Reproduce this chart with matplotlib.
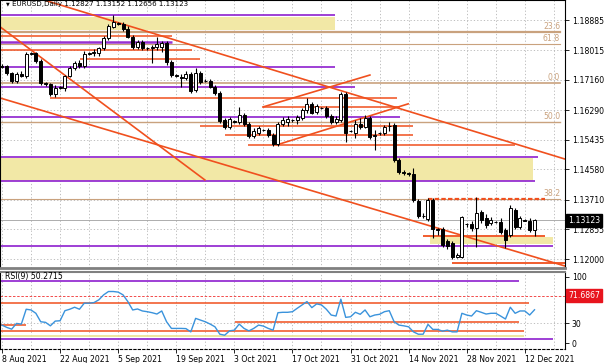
import numpy as np
import matplotlib.pyplot as plt
from matplotlib.patches import Rectangle

# daily EURUSD candles (Sunday bars included)
opens = [1.1756, 1.1756, 1.1736, 1.1713, 1.1733, 1.1727, 1.1791, 1.1793, 1.1770, 1.1707,
         1.1704, 1.1675, 1.1693, 1.1693, 1.1727, 1.1750, 1.1765, 1.1756, 1.1791, 1.1793,
         1.1793, 1.1808, 1.1837, 1.1868, 1.1880, 1.1877, 1.1863, 1.1840, 1.1811, 1.1825,
         1.1808, 1.1808, 1.1811, 1.1811, 1.1822, 1.1768, 1.1730, 1.1724, 1.1721, 1.1733,
         1.1687, 1.1736, 1.1713, 1.1713, 1.1696, 1.1678, 1.1601, 1.1580, 1.1598, 1.1595,
         1.1615, 1.1589, 1.1554, 1.1563, 1.1572, 1.1572, 1.1557, 1.1531, 1.1589, 1.1595,
         1.1601, 1.1601, 1.1606, 1.1629, 1.1647, 1.1624, 1.1635, 1.1635, 1.1612, 1.1595,
         1.1601, 1.1675, 1.1569, 1.1563, 1.1589, 1.1580, 1.1606, 1.1554, 1.1563, 1.1563,
         1.1583, 1.1586, 1.1485, 1.1451, 1.1448, 1.1445, 1.1367, 1.1324, 1.1315, 1.1370,
         1.1287, 1.1287, 1.1252, 1.1246, 1.1206, 1.1206, 1.1301, 1.1301, 1.1289, 1.1336,
         1.1318, 1.1304, 1.1307, 1.1307, 1.1284, 1.1269, 1.1341, 1.1292, 1.1312, 1.1310,
         1.12827]
highs = [1.1762, 1.1759, 1.1739, 1.1739, 1.1742, 1.1796, 1.1796, 1.1796, 1.1776, 1.1710,
         1.1707, 1.1701, 1.1698, 1.1730, 1.1756, 1.1770, 1.1773, 1.1799, 1.1796, 1.1805,
         1.1811, 1.1842, 1.1877, 1.1903, 1.1883, 1.1883, 1.1871, 1.1845, 1.1831, 1.1831,
         1.1811, 1.1817, 1.1840, 1.1828, 1.1828, 1.1773, 1.1733, 1.1733, 1.1742, 1.1739,
         1.1750, 1.1742, 1.1719, 1.1719, 1.1701, 1.1684, 1.1606, 1.1609, 1.1601, 1.1638,
         1.1621, 1.1595, 1.1578, 1.1583, 1.1575, 1.1578, 1.1563, 1.1595, 1.1609, 1.1612,
         1.1603, 1.1615, 1.1635, 1.1664, 1.1652, 1.1647, 1.1638, 1.1641, 1.1618, 1.1612,
         1.1681, 1.1681, 1.1572, 1.1601, 1.1606, 1.1615, 1.1612, 1.1572, 1.1566, 1.1586,
         1.1595, 1.1592, 1.1491, 1.1457, 1.1451, 1.1462, 1.1373, 1.1333, 1.1376, 1.1376,
         1.1289, 1.1292, 1.1258, 1.1252, 1.1217, 1.1324, 1.1304, 1.1310, 1.1379, 1.1341,
         1.1330, 1.1321, 1.1310, 1.1318, 1.1289, 1.1356, 1.1347, 1.1324, 1.1315, 1.1318,
         1.13152]
lows = [1.1750, 1.1730, 1.1707, 1.1707, 1.1724, 1.1721, 1.1788, 1.1765, 1.1701, 1.1698,
        1.1670, 1.1667, 1.1690, 1.1684, 1.1724, 1.1745, 1.1750, 1.1750, 1.1788, 1.1785,
        1.1785, 1.1802, 1.1831, 1.1865, 1.1874, 1.1857, 1.1837, 1.1805, 1.1805, 1.1802,
        1.1802, 1.1765, 1.1802, 1.1796, 1.1759, 1.1724, 1.1724, 1.1696, 1.1716, 1.1678,
        1.1681, 1.1704, 1.1710, 1.1693, 1.1673, 1.1592, 1.1575, 1.1575, 1.1592, 1.1589,
        1.1583, 1.1549, 1.1549, 1.1557, 1.1569, 1.1552, 1.1526, 1.1526, 1.1583, 1.1583,
        1.1595, 1.1589, 1.1601, 1.1621, 1.1618, 1.1618, 1.1632, 1.1606, 1.1589, 1.1589,
        1.1595, 1.1537, 1.1566, 1.1549, 1.1575, 1.1578, 1.1546, 1.1514, 1.1557, 1.1557,
        1.1569, 1.1480, 1.1445, 1.1442, 1.1439, 1.1364, 1.1318, 1.1318, 1.1310, 1.1261,
        1.1269, 1.1235, 1.1229, 1.1200, 1.1203, 1.1203, 1.1292, 1.1281, 1.1235, 1.1304,
        1.1289, 1.1298, 1.1304, 1.1272, 1.1232, 1.1263, 1.1287, 1.1287, 1.1310, 1.1278,
        1.12656]
closes = [1.1753, 1.1736, 1.1713, 1.1733, 1.1727, 1.1791, 1.1793, 1.1770, 1.1707, 1.1704,
          1.1675, 1.1693, 1.1696, 1.1727, 1.1750, 1.1765, 1.1756, 1.1791, 1.1793, 1.1796,
          1.1808, 1.1837, 1.1871, 1.1883, 1.1877, 1.1863, 1.1840, 1.1811, 1.1825, 1.1808,
          1.1809, 1.1811, 1.1819, 1.1822, 1.1768, 1.1730, 1.1727, 1.1721, 1.1733, 1.1684,
          1.1736, 1.1710, 1.1712, 1.1696, 1.1678, 1.1598, 1.1580, 1.1603, 1.1595, 1.1615,
          1.1589, 1.1554, 1.1569, 1.1578, 1.1571, 1.1557, 1.1531, 1.1589, 1.1601, 1.1603,
          1.1600, 1.1609, 1.1629, 1.1647, 1.1621, 1.1641, 1.1634, 1.1612, 1.1595, 1.1603,
          1.1675, 1.1563, 1.1568, 1.1589, 1.1580, 1.1606, 1.1552, 1.1557, 1.1562, 1.1580,
          1.1582, 1.1485, 1.1451, 1.1448, 1.1445, 1.1370, 1.1324, 1.1323, 1.1370, 1.1287,
          1.1284, 1.1240, 1.1238, 1.1206, 1.1212, 1.1321, 1.1300, 1.1289, 1.1333, 1.1312,
          1.1298, 1.1312, 1.1306, 1.1278, 1.1255, 1.1347, 1.1292, 1.1318, 1.1311, 1.1284,
          1.13123]
rsi9 = [27.3, 23.8, 21.2, 29.8, 28.8, 51.1, 50.0, 45.0, 32.3, 31.4,
        26.2, 33.3, 33.8, 48.9, 51.1, 54.1, 51.1, 60.2, 60.2, 61.1,
        65.2, 72.7, 77.7, 77.7, 76.8, 72.7, 62.6, 50.0, 51.5, 48.5,
        47.4, 45.9, 43.9, 48.5, 32.3, 22.3, 22.3, 22.3, 22.0, 17.1,
        37.4, 34.8, 32.3, 28.8, 24.7, 13.6, 12.1, 18.6, 19.7, 28.8,
        22.3, 18.6, 22.3, 27.3, 25.8, 22.3, 19.7, 45.9, 46.5, 46.5,
        47.4, 52.6, 57.6, 62.6, 53.5, 59.1, 57.6, 51.1, 42.4, 40.9,
        66.2, 38.9, 39.8, 46.5, 43.5, 50.0, 39.8, 42.4, 43.5, 47.4,
        48.9, 32.3, 27.3, 26.2, 24.7, 17.1, 13.6, 13.6, 28.3, 20.8,
        20.8, 18.2, 19.7, 17.1, 17.1, 45.0, 42.4, 40.9, 48.9, 46.5,
        43.9, 45.0, 45.0, 40.9, 36.4, 54.1, 45.0, 48.5, 48.5, 42.4,
        50.27]

date_labels = ['8 Aug 2021', '22 Aug 2021', '5 Sep 2021', '19 Sep 2021', '3 Oct 2021',
               '17 Oct 2021', '31 Oct 2021', '14 Nov 2021', '28 Nov 2021', '12 Dec 2021']
price_ticks = [1.18885, 1.18015, 1.17160, 1.16290, 1.15435, 1.14580, 1.13710, 1.12855, 1.12000]
last_price = 1.13123
rsi_last = 50.2715
rsi_marker = 71.6867

ORANGE = '#F0501E'
PURPLE = '#9630D2'
YELLOW = '#F2E8A6'
TAN = '#C9A27E'
FS = 5.6

X = np.arange(len(opens))
o = np.array(opens); c = np.array(closes); h = np.array(highs); l = np.array(lows)

fig = plt.figure(figsize=(6.05, 3.63), dpi=100)
ax = fig.add_axes([0.0, 1 - 268 / 363, 565 / 605, 268 / 363])
ax2 = fig.add_axes([0.0, 1 - 349 / 363, 565 / 605, 77 / 363])

XMIN, XMAX = -0.41, 116.3
ax.set_xlim(XMIN, XMAX)
ax.set_ylim(1.11743, 1.19461)
ax2.set_xlim(XMIN, XMAX)
ax2.set_ylim(-8.6, 107)

# grid
for a in (ax, ax2):
    for gx in np.arange(0, 117, 6):
        a.axvline(gx, color='#b4b4b4', lw=0.6, ls=(0, (1.5, 2.5)), zorder=0)
for p in price_ticks:
    ax.axhline(p, color='#b4b4b4', lw=0.6, ls=(0, (1.5, 2.5)), zorder=0)

# zones
def zone(a, x0, x1, y0, y1):
    a.add_patch(Rectangle((x0, y0), x1 - x0, y1 - y0, color=YELLOW, lw=0, zorder=0.5))

zone(ax, XMIN, 68.8, 1.1860, 1.1897)
zone(ax, XMIN, 109.7, 1.1425, 1.1491)
zone(ax, 88.4, 113.8, 1.1243, 1.1263)

# horizontal levels: (price, x0, x1, color, lw)
hl = [
    (1.1903, XMIN, 68.8, PURPLE, 1.3),
    (1.1842, XMIN, 35.1, ORANGE, 1.1),
    (1.1824, XMIN, 35.1, PURPLE, 1.8),
    (1.1802, XMIN, 39.3, ORANGE, 1.1),
    (1.1776, 16.1, 40.9, ORANGE, 1.1),
    (1.1752, XMIN, 68.8, PURPLE, 1.3),
    (1.1696, XMIN, 72.9, PURPLE, 1.3),
    (1.1664, 9.9, 81.6, ORANGE, 1.1),
    (1.1638, 53.9, 82.2, ORANGE, 1.1),
    (1.1609, XMIN, 82.2, PURPLE, 1.3),
    (1.1583, 40.9, 84.9, ORANGE, 1.1),
    (1.1557, 46.1, 84.9, ORANGE, 1.1),
    (1.1529, 50.8, 106.0, ORANGE, 1.1),
    (1.1494, XMIN, 110.7, PURPLE, 1.3),
    (1.1425, XMIN, 110.1, PURPLE, 1.3),
    (1.1266, 87.0, 112.2, ORANGE, 1.3),
    (1.1239, XMIN, 113.8, PURPLE, 1.3),
    (1.1189, 93.0, 116.3, ORANGE, 1.3),
]
for p, x0, x1, col, lw in hl:
    ax.plot([x0, x1], [p, p], color=col, lw=lw, zorder=1, solid_capstyle='butt')

# fibo levels
fib = [(1.1854, '23.6', 1.6), (1.1819, '61.8', 0.8), (1.1707, '0.0', 1.2),
       (1.1595, '50.0', 1.0), (1.1372, '38.2', 0.8)]
for p, lab, lw in fib:
    ax.plot([XMIN, 115.3], [p, p], color=TAN, lw=lw, zorder=1)
    ax.text(115.3, p + 0.0003, lab, color=TAN, fontsize=FS, ha='right', va='bottom')
ax.plot([88.0, 112.2], [1.1372, 1.1372], color=ORANGE, lw=1.6, ls=(0, (2, 1)), zorder=1.2)

# trend lines
tl = [((-0.41, 1.1869), (41.9, 1.1428)),
      ((-0.41, 1.1664), (116.3, 1.1180)),
      ((8.7, 1.1946), (116.3, 1.1488)),
      ((53.9, 1.1638), (76.0, 1.1730)),
      ((56.8, 1.1529), (83.9, 1.1647))]
for (x0, y0), (x1, y1) in tl:
    ax.plot([x0, x1], [y0, y1], color=ORANGE, lw=1.2, zorder=1.1)

# bid line
ax.axhline(last_price, color='#a0a0a0', lw=0.6, zorder=1)

# candles
up = c >= o
ax.vlines(X, l, h, color='black', lw=0.8, zorder=2)
body_lo = np.minimum(o, c)
body_h = np.abs(c - o)
ax.bar(X[up], body_h[up], bottom=body_lo[up], width=0.62, color='white',
       edgecolor='black', lw=0.7, zorder=3)
ax.bar(X[~up], body_h[~up], bottom=body_lo[~up], width=0.62, color='black',
       edgecolor='black', lw=0.7, zorder=3)

# price axis
ax.yaxis.tick_right()
ax.set_yticks(price_ticks)
ax.set_yticklabels([f'{p:.5f}' for p in price_ticks], fontsize=FS)
ax.tick_params(axis='y', length=3, width=0.6, pad=2)
ax.set_xticks([])
ax.text(XMAX + 0.6, last_price, f'{last_price:.5f}', color='white', fontsize=FS,
        va='center', ha='left', clip_on=False,
        bbox=dict(boxstyle='square,pad=0.25', fc='black', ec='black'))

ax.text(0.8, 1.1946 - 0.0012, '\u25BC', fontsize=3.5, va='center', ha='left')
ax.text(2.1, 1.1946 - 0.0012, 'EURUSD,Daily 1.12827 1.13152 1.12656 1.13123',
        fontsize=5.1, va='center', ha='left')

for sp in ax.spines.values():
    sp.set_color('black')
    sp.set_linewidth(0.8)
ax.spines['bottom'].set_color('#808080')
ax.spines['bottom'].set_linewidth(2.0)

# RSI panel
rsi_lines = [
    (94, XMIN, 106.8, PURPLE, 1.3),
    (60, XMIN, 108.9, ORANGE, 1.1),
    (32, 48.1, 106.8, ORANGE, 1.1),
    (27.5, XMIN, 5.0, ORANGE, 1.1),
    (18.5, XMIN, 107.9, ORANGE, 1.1),
    (11, XMIN, 107.9, '#ECE39A', 1.3),
    (6.5, XMIN, 113.8, PURPLE, 1.3),
]
for v, x0, x1, col, lw in rsi_lines:
    ax2.plot([x0, x1], [v, v], color=col, lw=lw, zorder=1, solid_capstyle='butt')
ax2.axhline(rsi_marker, color='#F03030', lw=0.6, ls=(0, (3, 2)), zorder=1)
ax2.axhline(30, color='#b4b4b4', lw=0.6, ls=(0, (1.5, 2.5)), zorder=0)
ax2.plot(X, rsi9, color='#3A93DC', lw=1.0, zorder=3)

ax2.yaxis.tick_right()
ax2.set_yticks([100, 30, 0])
ax2.set_yticklabels(['100', '30', '0'], fontsize=FS)
ax2.tick_params(axis='y', length=3, width=0.6, pad=2)
ax2.text(XMAX + 0.6, rsi_marker, f'{rsi_marker:.4f}', color='white', fontsize=FS,
         va='center', ha='left', clip_on=False,
         bbox=dict(boxstyle='square,pad=0.25', fc='#E8141E', ec='#E8141E'))
ax2.text(0.6, 99.5, f'RSI(9) {rsi_last:.4f}', fontsize=FS, va='center', ha='left')

date_pos = np.arange(0, 12 * len(date_labels), 12)
ax2.set_xticks(date_pos)
ax2.set_xticklabels(date_labels, fontsize=FS, ha='left')
ax2.tick_params(axis='x', length=3, width=0.6, pad=1.0)
for sp in ax2.spines.values():
    sp.set_color('black')
    sp.set_linewidth(0.8)
ax2.spines['bottom'].set_linestyle((0, (2, 2)))
ax2.spines['top'].set_color('#808080')
ax2.spines['top'].set_linewidth(1.5)

fig.savefig('out.png', dpi=100)
